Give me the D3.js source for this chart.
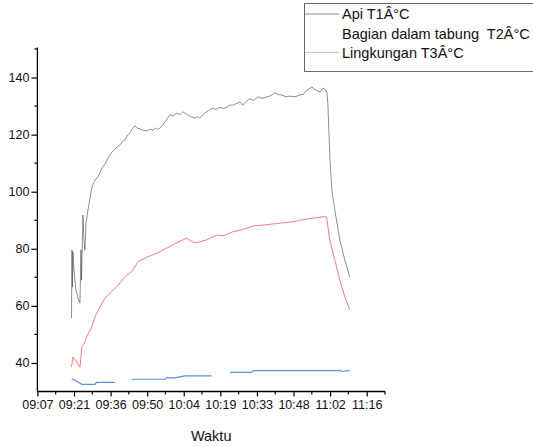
<!DOCTYPE html>
<html>
<head>
<meta charset="utf-8">
<script src="https://cdn.jsdelivr.net/npm/d3@7"></script>
<style>
  body { margin: 0; background: #fff; }
  svg { display: block; font-family: "Liberation Sans", Arial, sans-serif; }
</style>
</head>
<body>
<svg id="chart" width="533" height="447"></svg>
<script>
// legend labels (kept as shown in the source image)
const seriesNames = ["Api T1Â°C", "Bagian dalam tabung  T2Â°C", "Lingkungan T3Â°C"];

// x ticks: Origin-style day fractions (0.38 .. 0.47), labels truncated to minutes
const xTickTimes = ["09:07:12", "09:21:36", "09:36:00", "09:50:24", "10:04:48",
  "10:19:12", "10:33:36", "10:48:00", "11:02:24", "11:16:48"];
const xTickLabels = ["09:07", "09:21", "09:36", "09:50", "10:04", "10:19", "10:33", "10:48", "11:02", "11:16"];
const yTickValues = [40, 60, 80, 100, 120, 140];

// T1 - Api
const t1Times = ["09:20:37", "09:20:49", "09:21:00", "09:21:12", "09:21:36", "09:22:23", "09:23:10", "09:23:57",
  "09:24:21", "09:24:33", "09:25:08", "09:25:32", "09:25:55", "09:26:19", "09:27:06", "09:27:53", "09:28:41",
  "09:29:51", "09:30:39", "09:31:49", "09:32:37", "09:33:47", "09:34:58", "09:36:33", "09:38:07", "09:39:41",
  "09:40:40", "09:41:39", "09:42:40", "09:43:37", "09:44:40", "09:45:35", "09:46:23", "09:47:33", "09:48:50",
  "09:50:19", "09:51:30", "09:52:40", "09:53:40", "09:54:38", "09:55:25", "09:56:36", "09:58:11", "09:59:21",
  "10:00:40", "10:02:07", "10:03:20", "10:04:28", "10:05:30", "10:06:26", "10:07:50", "10:09:11", "10:10:10",
  "10:11:09", "10:12:10", "10:13:07", "10:14:30", "10:15:53", "10:17:30", "10:19:01", "10:20:20", "10:21:47",
  "10:23:00", "10:24:08", "10:25:30", "10:26:53", "10:28:04", "10:29:30", "10:30:49", "10:32:20", "10:33:58",
  "10:35:40", "10:37:31", "10:39:00", "10:40:39", "10:42:00", "10:43:25", "10:45:00", "10:46:33", "10:48:30",
  "10:50:29", "10:52:00", "10:53:15", "10:55:13", "10:56:20", "10:57:34", "10:58:30", "10:59:32", "11:00:20",
  "11:01:07", "11:01:30", "11:01:54", "11:02:17", "11:03:05", "11:04:15", "11:06:13", "11:08:11", "11:10:09"];
const t1Values = [55.8, 79.6, 66.6, 78.9, 72.5, 65.5, 62.7, 61.0,
  79.6, 69.0, 91.8, 83.0, 79.6, 89.0, 93.6, 97.8, 101.7,
  104.1, 104.8, 106.6, 108.3, 109.7, 111.8, 113.9, 115.3, 116.4,
  117.6, 118.1, 119.8, 120.6, 122.2, 123.0, 122.3, 122.0, 121.5,
  121.3, 121.9, 121.6, 122.2, 121.8, 122.3, 123.4, 125.5, 126.9,
  126.5, 127.6, 127.0, 128.0, 127.4, 126.9, 126.2, 125.8, 126.4,
  125.8, 126.9, 127.6, 128.4, 129.3, 128.8, 129.6, 129.1, 129.6,
  130.4, 130.3, 130.9, 131.4, 130.3, 131.8, 132.5, 132.0, 133.2,
  132.7, 133.2, 133.6, 134.6, 134.0, 133.9, 133.3, 133.5, 133.2,
  133.9, 134.2, 135.6, 136.7, 135.8, 135.3, 135.0, 136.3, 136.0,
  134.9, 131.1, 121.6, 112.2, 100.6, 93.6, 83.1, 76.1, 70.1];

// T2 - Bagian dalam tabung
const t2Times = ["09:20:37", "09:21:12", "09:22:23", "09:23:10", "09:23:57", "09:24:21", "09:24:45", "09:25:32",
  "09:26:35", "09:28:33", "09:29:51", "09:31:49", "09:33:47", "09:36:25", "09:39:01", "09:41:39", "09:44:17",
  "09:46:53", "09:50:11", "09:54:07", "09:58:03", "10:01:59", "10:05:55", "10:07:53", "10:09:51", "10:13:47",
  "10:17:43", "10:20:19", "10:24:15", "10:28:11", "10:32:07", "10:36:03", "10:39:59", "10:43:55", "10:47:51",
  "10:51:09", "10:55:05", "10:59:39", "11:00:59", "11:02:17", "11:04:15", "11:06:13", "11:08:11", "11:10:09"];
const t2Values = [38.6, 42.1, 40.7, 39.6, 38.6, 42.4, 45.9, 46.6,
  49.1, 52.6, 56.1, 59.6, 62.7, 65.0, 67.3, 70.2, 72.0,
  75.5, 77.0, 78.4, 80.2, 82.1, 83.7, 82.5, 82.1, 83.1,
  84.8, 84.5, 86.0, 86.8, 88.0, 88.3, 88.7, 89.1, 89.5,
  90.1, 90.7, 91.2, 91.2, 83.1, 76.1, 69.1, 63.2, 58.6];

// T3 - Lingkungan (null = no reading)
const t3Times = ["09:20:41", "09:22:39", "09:24:37", "09:29:51", "09:30:31", "09:37:43", "09:41:00",
  "09:44:17", "09:57:23", "09:58:03", "10:01:19", "10:05:15", "10:15:45", "10:19:00",
  "10:22:57", "10:31:29", "10:32:07", "11:04:55", "11:06:13", "11:07:01", "11:10:09"];
const t3Values = [34.4, 33.7, 32.5, 32.5, 33.2, 33.2, null,
  34.3, 34.3, 34.8, 34.8, 35.5, 35.5, null,
  36.7, 36.7, 37.3, 37.3, 37.4, 37.1, 37.3];

const toMin = s => { const p = s.split(":").map(Number); return p[0] * 60 + p[1] + (p[2] || 0) / 60; };
const zip = (ts, vs) => ts.map((t, i) => ({ t: toMin(t), v: vs[i] }));

const svg = d3.select("#chart");
const mLeft = 37.4, mRight = 385, mTop = 49, mBottom = 391.5;

const x = d3.scaleLinear().domain([547.2, 684]).range([mLeft, mRight]);
const y = d3.scaleLinear().domain([30, 150]).range([mBottom, mTop]);

const line = d3.line()
  .defined(d => d.v != null)
  .x(d => x(d.t))
  .y(d => y(d.v));

// series
svg.append("path").datum(zip(t3Times, t3Values))
  .attr("fill", "none").attr("stroke", "#5b8ee4").attr("stroke-width", 1.2).attr("d", line);
svg.append("path").datum(zip(t2Times, t2Values))
  .attr("fill", "none").attr("stroke", "#ff3a3a").attr("stroke-width", 0.8).attr("stroke-opacity", 0.85).attr("d", line);
svg.append("path").datum(zip(t1Times, t1Values))
  .attr("fill", "none").attr("stroke", "#4a4a4a").attr("stroke-width", 0.7).attr("stroke-opacity", 0.9).attr("d", line);

// x axis
const xMajor = xTickTimes.map(toMin);
const xMinor = xMajor.map(m => m + 7.2);
const xAxis = svg.append("g").attr("transform", `translate(0,${mBottom})`);
xAxis.call(d3.axisBottom(x).tickValues(xMajor).tickSize(5).tickPadding(4)
  .tickFormat((d, i) => xTickLabels[i]));
xAxis.append("g").selectAll("line").data(xMinor).join("line")
  .attr("x1", d => x(d)).attr("x2", d => x(d)).attr("y1", 0).attr("y2", 3)
  .attr("stroke", "#000").attr("stroke-width", 1.2);

// y axis
const yAxis = svg.append("g").attr("transform", `translate(${mLeft},0)`);
yAxis.call(d3.axisLeft(y).tickValues(yTickValues).tickSize(6).tickPadding(2));
yAxis.append("g").selectAll("line").data([50, 70, 90, 110, 130, 150]).join("line")
  .attr("x1", 0).attr("x2", -3).attr("y1", d => y(d)).attr("y2", d => y(d))
  .attr("stroke", "#000").attr("stroke-width", 1.2);

svg.selectAll(".domain").attr("stroke", "#000").attr("stroke-width", 1.3);
svg.selectAll(".tick line").attr("stroke", "#000").attr("stroke-width", 1.2);
svg.selectAll(".tick text").attr("font-family", "'Liberation Sans', Arial, sans-serif")
  .attr("font-size", 12.5).attr("fill", "#111");
// flat ends on axes like the original
xAxis.select(".domain").attr("d", `M${mLeft},0H${mRight}`);
yAxis.select(".domain").attr("d", `M0,${y(150) - 1.4}V${mBottom}`);

// axis title
svg.append("text")
  .attr("x", (mLeft + mRight) / 2).attr("y", 441)
  .attr("text-anchor", "middle").attr("font-size", 14.5).attr("fill", "#111")
  .text("Waktu");

// legend
const legend = svg.append("g");
legend.append("rect")
  .attr("x", 304.5).attr("y", 3.5).attr("width", 240).attr("height", 68)
  .attr("fill", "#fff").attr("stroke", "#666").attr("stroke-width", 1);
const legendColors = ["#8a8a8a", null, "#a9c5f2"];
const rowY = [14, 33.3, 52.3];
seriesNames.forEach((name, i) => {
  if (legendColors[i]) {
    legend.append("line")
      .attr("x1", 305).attr("x2", 339).attr("y1", rowY[i]).attr("y2", rowY[i])
      .attr("stroke", legendColors[i]).attr("stroke-width", 1);
  }
  legend.append("text")
    .attr("x", 342).attr("y", rowY[i] + 5.3)
    .attr("font-size", 14.5).attr("fill", "#111")
    .style("white-space", "pre")
    .text(name);
});
</script>
</body>
</html>
